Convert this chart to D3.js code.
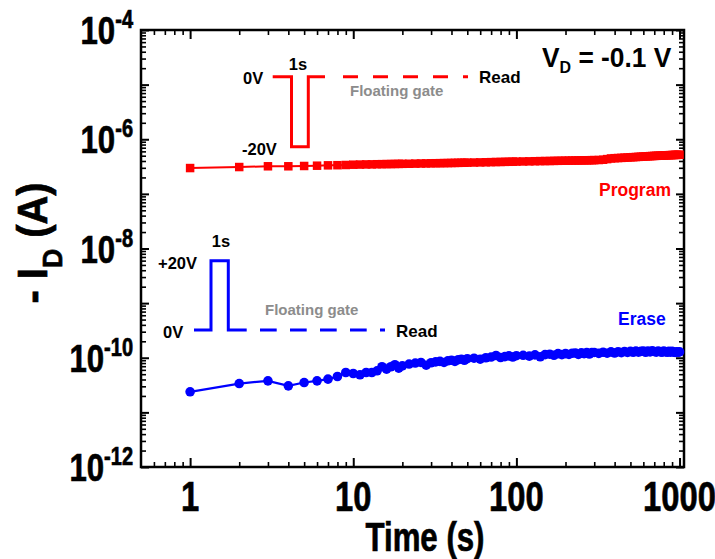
<!DOCTYPE html>
<html>
<head>
<meta charset="utf-8">
<script src="https://cdn.jsdelivr.net/npm/d3@7"></script>
<style>
  html, body { margin: 0; padding: 0; background: #fff; }
  svg { display: block; }
  text { font-family: "Liberation Sans", Arial, sans-serif; font-weight: bold; }
  .heavy { stroke: #000; stroke-width: 0.7px; }
</style>
</head>
<body>
<svg id="chart" width="715" height="559"></svg>
<script>
// Sampling times (s) of the retention measurement
const times = [
  1, 2, 3, 4, 5, 6, 7, 8, 9, 10, 11, 12, 13, 14, 15, 16, 17, 18, 19, 20,
  22, 24, 26, 28, 30, 32, 34, 36, 38, 40, 42, 44, 46, 48, 50,
  55, 60, 65, 70, 75, 80, 85, 90, 95, 100,
  110, 120, 130, 140, 150, 160, 170, 180, 190, 200, 210, 220, 230, 240, 250, 260, 270, 280, 290, 300,
  320, 340, 360, 380, 400, 420, 440, 460, 480, 500, 520, 540, 560, 580, 600, 620, 640, 660, 680, 700,
  720, 740, 760, 780, 800, 820, 840, 860, 880, 900, 920, 940, 960, 980, 1000
];

// -I_D after the -20 V program pulse (A)
const programCurrent = [
  2.97e-7, 3.10e-7, 3.20e-7, 3.20e-7, 3.24e-7, 3.28e-7, 3.33e-7, 3.35e-7, 3.38e-7, 3.42e-7,
  3.44e-7, 3.46e-7, 3.47e-7, 3.49e-7, 3.50e-7, 3.51e-7, 3.52e-7, 3.53e-7, 3.54e-7, 3.55e-7,
  3.56e-7, 3.58e-7, 3.60e-7, 3.61e-7, 3.63e-7, 3.64e-7, 3.65e-7, 3.66e-7, 3.67e-7, 3.68e-7,
  3.69e-7, 3.70e-7, 3.71e-7, 3.72e-7, 3.73e-7,
  3.75e-7, 3.77e-7, 3.79e-7, 3.81e-7, 3.83e-7, 3.84e-7, 3.86e-7, 3.87e-7, 3.89e-7, 3.90e-7,
  3.92e-7, 3.94e-7, 3.96e-7, 3.98e-7, 3.99e-7, 4.00e-7, 4.02e-7, 4.03e-7, 4.04e-7, 4.05e-7,
  4.06e-7, 4.07e-7, 4.08e-7, 4.09e-7, 4.10e-7, 4.11e-7, 4.12e-7, 4.13e-7, 4.14e-7, 4.15e-7,
  4.17e-7, 4.22e-7, 4.33e-7, 4.45e-7, 4.50e-7, 4.53e-7, 4.56e-7, 4.60e-7, 4.63e-7, 4.67e-7,
  4.70e-7, 4.73e-7, 4.76e-7, 4.79e-7, 4.82e-7, 4.85e-7, 4.88e-7, 4.91e-7, 4.93e-7, 4.95e-7,
  4.97e-7, 4.99e-7, 5.01e-7, 5.03e-7, 5.05e-7, 5.07e-7, 5.09e-7, 5.11e-7, 5.12e-7, 5.14e-7,
  5.15e-7, 5.17e-7, 5.18e-7, 5.19e-7, 5.20e-7
];

// -I_D after the +20 V erase pulse (A)
const eraseCurrent = [
  2.38e-11, 3.37e-11, 3.78e-11, 3.06e-11, 3.52e-11, 3.78e-11, 4.06e-11, 4.54e-11, 5.37e-11, 5.15e-11,
  4.88e-11, 5.37e-11, 5.37e-11, 5.77e-11, 6.84e-11, 6.20e-11, 6.84e-11, 7.44e-11, 6.46e-11, 7.10e-11,
  7.66e-11, 7.99e-11, 8.20e-11, 7.30e-11, 8.10e-11, 8.40e-11, 8.60e-11, 8.20e-11, 8.80e-11, 9.00e-11,
  8.60e-11, 9.20e-11, 9.40e-11, 9.00e-11, 9.60e-11,
  9.80e-11, 9.40e-11, 1.00e-10, 1.03e-10, 1.10e-10, 1.01e-10, 1.05e-10, 1.08e-10, 1.03e-10, 1.09e-10,
  1.11e-10, 1.07e-10, 1.13e-10, 1.04e-10, 1.14e-10, 1.16e-10, 1.11e-10, 1.19e-10, 1.14e-10, 1.19e-10,
  1.15e-10, 1.21e-10, 1.22e-10, 1.15e-10, 1.23e-10, 1.19e-10, 1.24e-10, 1.17e-10, 1.24e-10, 1.25e-10,
  1.20e-10, 1.26e-10, 1.21e-10, 1.28e-10, 1.22e-10, 1.29e-10, 1.24e-10, 1.30e-10, 1.25e-10, 1.31e-10,
  1.26e-10, 1.32e-10, 1.27e-10, 1.31e-10, 1.33e-10, 1.26e-10, 1.33e-10, 1.28e-10, 1.34e-10, 1.30e-10,
  1.27e-10, 1.33e-10, 1.29e-10, 1.26e-10, 1.33e-10, 1.29e-10, 1.26e-10, 1.31e-10, 1.27e-10, 1.31e-10,
  1.27e-10, 1.25e-10, 1.29e-10, 1.26e-10, 1.28e-10
];

// Axis ticks
const xMajorTicks = [1, 10, 100, 1000];
const xMinorTicks = [0.6, 0.7, 0.8, 0.9, 2, 3, 4, 5, 6, 7, 8, 9, 20, 30, 40, 50, 60, 70, 80, 90,
                     200, 300, 400, 500, 600, 700, 800, 900];
const xTickLabels = ["1", "10", "100", "1000"];
const yMajorExps = [-12, -11, -10, -9, -8, -7, -6, -5, -4];
const yLabelExps = [-12, -10, -8, -6, -4];

const svg = d3.select("#chart");
const plotLeft = 141, plotRight = 684, plotTop = 30, plotBottom = 467;

const x = d3.scaleLog().domain([0.5, 1065]).range([plotLeft, plotRight]);
const y = d3.scaleLog().domain([1e-12, 1e-4]).range([plotBottom, plotTop]);

const yMajorTicks = yMajorExps.map(e => Math.pow(10, e));
const yMinorTicks = [];
yMajorExps.slice(0, -1).forEach(e => {
  for (let m = 2; m <= 9; m++) yMinorTicks.push(m * Math.pow(10, e));
});

// Tick marks on all four sides, pointing inward
function tickGroup(axis, tx, ty, values, size, width) {
  const g = svg.append("g")
    .attr("transform", `translate(${tx},${ty})`)
    .call(axis.tickValues(values).tickSize(-size).tickSizeOuter(0).tickFormat(""));
  g.select(".domain").remove();
  g.selectAll(".tick line").attr("stroke", "#000").attr("stroke-width", width);
  return g;
}
tickGroup(d3.axisBottom(x), 0, plotBottom, xMajorTicks, 9, 2);
tickGroup(d3.axisBottom(x), 0, plotBottom, xMinorTicks, 5, 1.6);
tickGroup(d3.axisTop(x), 0, plotTop, xMajorTicks, 9, 2);
tickGroup(d3.axisTop(x), 0, plotTop, xMinorTicks, 5, 1.6);
tickGroup(d3.axisLeft(y), plotLeft, 0, yMajorTicks, 8, 2);
tickGroup(d3.axisLeft(y), plotLeft, 0, yMinorTicks, 5, 1.6);
tickGroup(d3.axisRight(y), plotRight, 0, yMajorTicks, 8, 2);
tickGroup(d3.axisRight(y), plotRight, 0, yMinorTicks, 5, 1.6);

// Frame
svg.append("rect")
  .attr("x", plotLeft).attr("y", plotTop)
  .attr("width", plotRight - plotLeft).attr("height", plotBottom - plotTop)
  .attr("fill", "none").attr("stroke", "#000").attr("stroke-width", 2.5);

// X tick labels (condensed bold)
svg.selectAll(".xlab").data(xMajorTicks).join("text")
  .attr("class", "xlab heavy")
  .attr("transform", (d) => `translate(${x(d)},511) scale(0.78,1)`)
  .attr("text-anchor", "middle")
  .attr("font-size", 42)
  .text((d, i) => xTickLabels[i]);

// Y tick labels as 10^n
const ylab = svg.selectAll(".ylab").data(yLabelExps).join("text")
  .attr("class", "ylab heavy")
  .attr("transform", (d) => `translate(133,${y(Math.pow(10, d)) + 14}) scale(0.8,1)`)
  .attr("text-anchor", "end");
ylab.append("tspan").attr("font-size", 39).text("10");
ylab.append("tspan").attr("font-size", 25).attr("dy", -16).text(d => String(d));

// Axis titles
svg.append("text")
  .attr("class", "heavy")
  .attr("transform", "translate(425,551) scale(0.78,1)")
  .attr("text-anchor", "middle")
  .attr("font-size", 40)
  .text("Time (s)");

const yTitle = svg.append("text")
  .attr("class", "heavy")
  .attr("transform", "translate(47,243) rotate(-90) scale(0.95,1)")
  .attr("text-anchor", "middle")
  .attr("font-size", 42);
yTitle.append("tspan").text("- I");
yTitle.append("tspan").attr("font-size", 28).attr("dy", 15).text("D");
yTitle.append("tspan").attr("dy", -15).text(" (A)");

// Data series
const programData = times.map((t, i) => ({ t, v: programCurrent[i] }));
const eraseData = times.map((t, i) => ({ t, v: eraseCurrent[i] }));
const line = d3.line().x(d => x(d.t)).y(d => y(d.v));

svg.append("path").datum(programData)
  .attr("d", line).attr("fill", "none").attr("stroke", "#ff0000").attr("stroke-width", 2);
const sq = 8.5;
svg.selectAll(".pgm").data(programData).join("rect")
  .attr("class", "pgm")
  .attr("x", d => x(d.t) - sq / 2).attr("y", d => y(d.v) - sq / 2)
  .attr("width", sq).attr("height", sq)
  .attr("fill", "#ff0000");

svg.append("path").datum(eraseData)
  .attr("d", line).attr("fill", "none").attr("stroke", "#0000ff").attr("stroke-width", 2.2);
svg.selectAll(".ers").data(eraseData).join("circle")
  .attr("class", "ers")
  .attr("cx", d => x(d.t)).attr("cy", d => y(d.v)).attr("r", 4.8)
  .attr("fill", "#0000ff");

// Series labels and bias condition
svg.append("text").attr("x", 599).attr("y", 196).attr("font-size", 17.5)
  .attr("fill", "#ff0000").text("Program");
svg.append("text").attr("x", 618).attr("y", 325).attr("font-size", 17.5)
  .attr("fill", "#0000ff").text("Erase");

const vd = svg.append("text")
  .attr("transform", "translate(542,66.5) scale(0.94,1)")
  .attr("font-size", 28);
vd.append("tspan").text("V");
vd.append("tspan").attr("font-size", 17).attr("dy", 6.6).text("D");
vd.append("tspan").attr("dy", -6.6).text(" = -0.1 V");

// Gate pulse schematics
function label(xp, yp, txt, size, color, anchor) {
  svg.append("text").attr("x", xp).attr("y", yp).attr("font-size", size)
    .attr("fill", color || "#000").attr("text-anchor", anchor || "start").text(txt);
}

// Program: 0 V -> -20 V for 1 s, then floating gate and read
svg.append("path")
  .attr("d", "M272.7,76.7 H291.5 V146.7 H308.3 V76.7 H325")
  .attr("fill", "none").attr("stroke", "#ff0000").attr("stroke-width", 3);
svg.append("line")
  .attr("x1", 343).attr("x2", 468).attr("y1", 76.7).attr("y2", 76.7)
  .attr("stroke", "#ff0000").attr("stroke-width", 3).attr("stroke-dasharray", "15,15");
label(243, 84, "0V", 16.5);
label(298, 70, "1s", 16.5, "#000", "middle");
label(242, 155, "-20V", 16.5);
label(350, 96, "Floating gate", 15, "#8c8c8c");
label(479, 83, "Read", 17);

// Erase: 0 V -> +20 V for 1 s, then floating gate and read
svg.append("path")
  .attr("d", "M194,330 H211 V260.7 H228.3 V330 H246.7")
  .attr("fill", "none").attr("stroke", "#0000ff").attr("stroke-width", 3);
svg.append("line")
  .attr("x1", 260).attr("x2", 385).attr("y1", 330).attr("y2", 330)
  .attr("stroke", "#0000ff").attr("stroke-width", 3).attr("stroke-dasharray", "16.7,13.3");
label(163, 338, "0V", 16.5);
label(221, 247, "1s", 16.5, "#000", "middle");
label(158, 268.5, "+20V", 16.5);
label(265, 315, "Floating gate", 15, "#8c8c8c");
label(396, 337, "Read", 17);
</script>
</body>
</html>
